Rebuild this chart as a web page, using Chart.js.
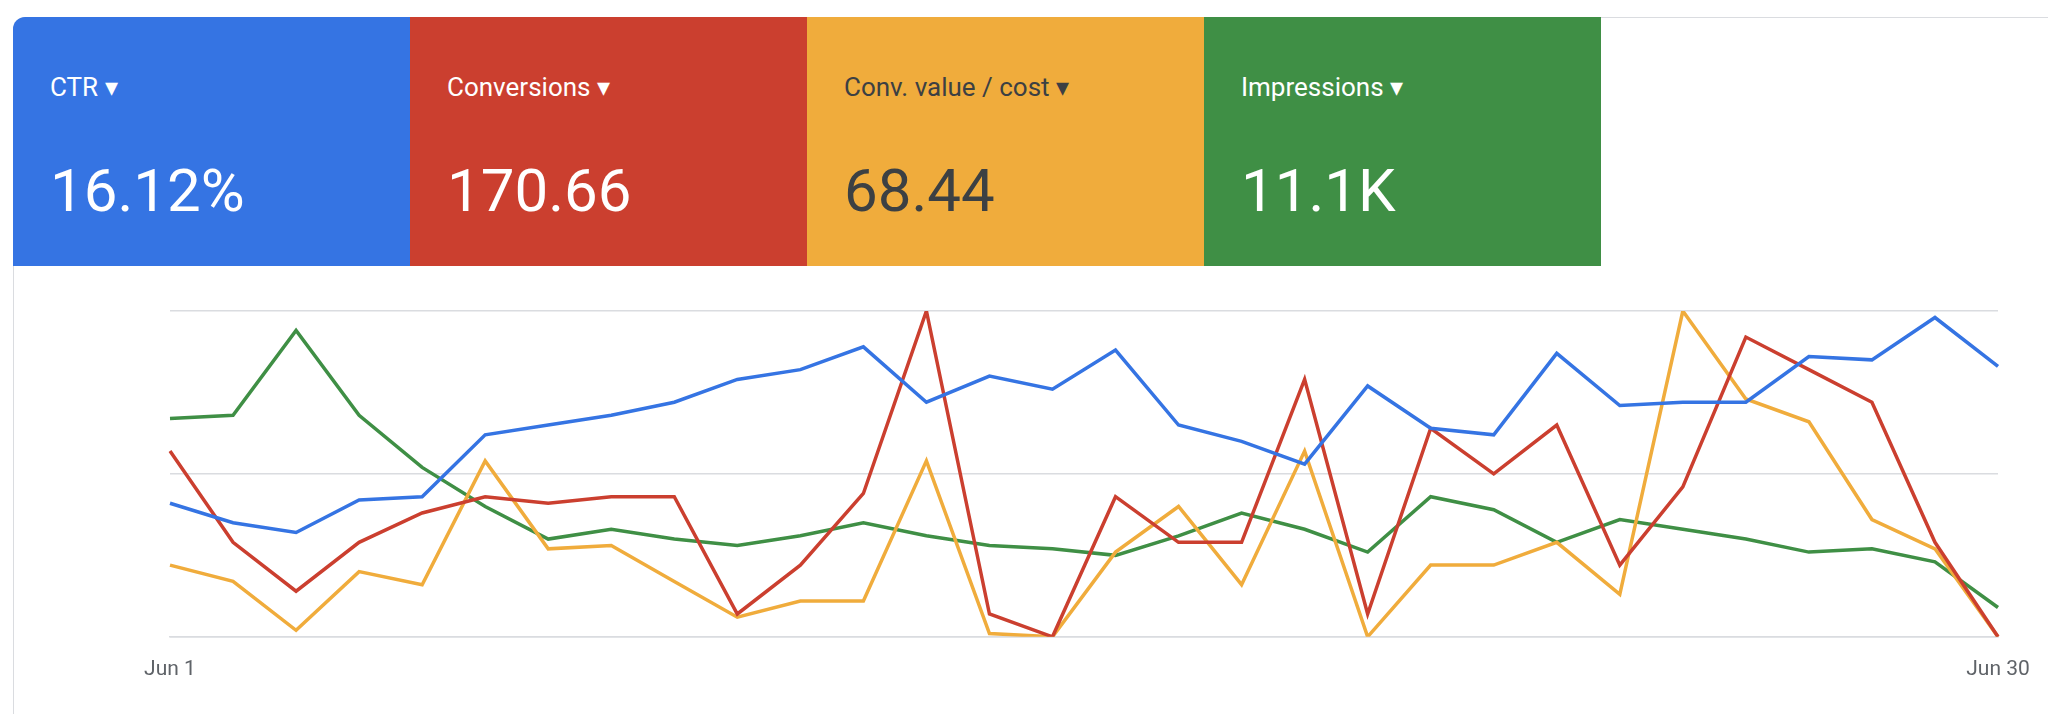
<!DOCTYPE html>
<html><head><meta charset="utf-8">
<script src="https://cdn.jsdelivr.net/npm/chart.js@4"></script>
<style>
body{margin:0;background:#fff;font-family:Roboto,Arial,sans-serif;}
#wrap{position:relative;width:2048px;height:714px;overflow:hidden;}
#frame{position:absolute;left:13px;top:17px;width:2100px;height:760px;border:1px solid #dadce0;border-radius:12px;}
.card{position:absolute;top:17px;height:249px;width:397px;box-sizing:border-box;padding-left:37px;color:#fff;}
.card .lab{position:absolute;top:55px;font-size:26px;}
.card .val{position:absolute;top:138px;font-size:60px;}
canvas{position:absolute;left:0;top:0;}
</style></head><body>
<div id="wrap">
<div id="frame"></div>
<canvas id="c" width="2048" height="714"></canvas>
</div>
<script>
const categories = Array.from({length:30},(_,i)=>'Jun '+(i+1));
const ctr = [41,35,32,42,43,62,65,68,72,79,82,89,72,80,76,88,65,60,53,77,64,62,87,71,72,72,86,85,98,83];
const conversions = [57,29,14,29,38,43,41,43,43,7,22,44,100,7,0,43,29,29,79,7,64,50,65,22,46,92,82,72,29,0];
const convValue = [22,17,2,20,16,54,27,28,17,6,11,11,54,1,0,26,40,16,57,0,22,22,29,13,100,73,66,36,27,0];
const impressions = [67,68,94,68,52,40,30,33,30,28,31,35,31,28,27,25,31,38,33,26,43,39,29,36,33,30,26,27,23,9];
const cards = [
 {label:'CTR', value:'16.12%', color:'#3574e3', text:'#fff'},
 {label:'Conversions', value:'170.66', color:'#cb3f2f', text:'#fff'},
 {label:'Conv. value / cost', value:'68.44', color:'#f0ac3c', text:'#3c4043'},
 {label:'Impressions', value:'11.1K', color:'#3f8f45', text:'#fff'}
];
const wrap=document.getElementById('wrap');
cards.forEach((c,i)=>{
 const d=document.createElement('div');d.className='card';
 d.style.left=(13+i*397)+'px';d.style.background=c.color;d.style.color=c.text;
 if(i===0)d.style.borderTopLeftRadius='12px';
 d.innerHTML='<div class="lab">'+c.label+' &#9662;</div><div class="val">'+c.value+'</div>';
 wrap.appendChild(d);
});
const mk=(data,color)=>({data,borderColor:color,borderWidth:3.5,pointRadius:0,tension:0,fill:false});
new Chart(document.getElementById('c'),{
 type:'line',
 data:{labels:categories,datasets:[mk(ctr,'#3574e3'),mk(conversions,'#cb3f2f'),mk(convValue,'#f0ac3c'),mk(impressions,'#3f8f45')]},
 options:{responsive:false,animation:false,
  layout:{padding:{left:170,right:50,top:311,bottom:20}},
  plugins:{legend:{display:false},tooltip:{enabled:false}},
  scales:{
   y:{min:0,max:100,ticks:{display:false,stepSize:50},grid:{color:'#dadce0',lineWidth:1.5,drawTicks:false},border:{display:false}},
   x:{grid:{display:false},border:{color:'#dadce0',width:1.5},
      ticks:{autoSkip:false,maxRotation:0,color:'#5f6368',font:{size:21,family:'Roboto'},padding:12,
        callback:(v,i)=>(i===0||i===29)?categories[i]:''}}
  }}
});
</script></body></html>
